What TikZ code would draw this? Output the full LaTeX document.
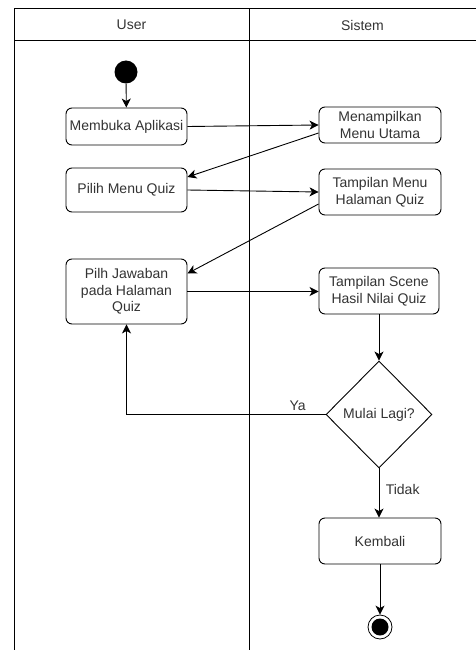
\documentclass[tikz,border=0pt]{standalone}
\usepackage{fontspec}
\setmainfont{Liberation Sans}
\usetikzlibrary{arrows.meta, shapes.geometric, calc, positioning}
\definecolor{txtGrey}{HTML}{333333}
\tikzset{
  lane/.style      = {line width=1pt, black},
  actbox/.style    = {draw=black, rounded corners=6pt, line width=0.9pt, fill=white,
                      inner sep=0pt, align=center, text=txtGrey,
                      font=\fontsize{14}{16.5}\selectfont},
  decision/.style  = {draw=black, diamond, line width=0.9pt, fill=white,
                      inner sep=0pt, aspect=1, text=txtGrey,
                      font=\fontsize{14}{16.5}\selectfont},
  startdot/.style  = {circle, fill=black, inner sep=0pt, minimum size=23pt},
  enddot/.style    = {circle, draw=black, line width=0.8pt, fill=white,
                      inner sep=0pt, minimum size=24pt,
                      path picture={\fill[black] (path picture bounding box.center) circle (8.5pt);}},
  flow/.style      = {-{Stealth[length=9pt, width=9pt, inset=2.5pt]}, line width=0.9pt, black},
  lbl/.style       = {text=txtGrey, font=\fontsize{14}{16.5}\selectfont},
}
\begin{document}
\begin{tikzpicture}[x=1pt, y=-1pt]
  \useasboundingbox (0,0) rectangle (476,650);

  % swimlanes
  \draw[lane] (14,650) -- (14,9) -- (476,9);
  \draw[lane] (14,41) -- (476,41);
  \draw[lane] (249,9) -- (249,650);
  \node[lbl] (hUser)   at (131.5,25) {User};
  \node[lbl] (hSistem) at (362.5,25) {Sistem};

  % user lane
  \node[startdot] (start) at (126,72) {};
  \node[actbox, minimum width=121pt, minimum height=37pt] (buka)  at (126.5,126.5) {Membuka Aplikasi};
  \node[actbox, minimum width=121pt, minimum height=44pt] (pilih) at (126.5,190) {Pilih Menu Quiz};
  \node[actbox, minimum width=121pt, minimum height=65pt] (jawab) at (126.5,291.5)
    {Pilh Jawaban\\pada Halaman\\Quiz};

  % system lane
  \node[actbox, minimum width=122pt, minimum height=36pt] (menu)   at (380,125) {Menampilkan\\Menu Utama};
  \node[actbox, minimum width=122pt, minimum height=46pt] (tquiz)  at (380,192) {Tampilan Menu\\Halaman Quiz};
  \node[actbox, minimum width=120pt, minimum height=46pt] (hasil)  at (379,291) {Tampilan Scene\\Hasil Nilai Quiz};
  \node[decision, minimum width=106pt, minimum height=107pt] (ulang) at (379,414.5) {Mulai Lagi?};
  \node[actbox, minimum width=122pt, minimum height=46pt] (balik)  at (380,541) {Kembali};
  \node[enddot] (stop) at (380,627) {};

  % flows
  \draw[flow] (start) -- (buka);
  \draw[flow] (buka.east) -- (menu.west);
  \draw[flow] ([yshift=-8pt]menu.west) -- ([yshift=13pt]pilih.east);
  \draw[flow] (pilih.east) -- (tquiz.west);
  \draw[flow] ([yshift=-12pt]tquiz.west) -- ([yshift=18pt]jawab.east);
  \draw[flow] (jawab.east) -- (jawab.east -| hasil.west);
  \draw[flow] (hasil) -- (ulang);
  \draw[flow] (ulang.west) -| node[lbl, above, pos=0.07] (ya) {Ya} (jawab.south);
  \draw[flow] (ulang.south) -- node[lbl, right, pos=0.42, xshift=3pt] (tidak) {Tidak} (balik.north -| ulang.south);
  \draw[flow] (balik) -- (stop);
\end{tikzpicture}
\end{document}
